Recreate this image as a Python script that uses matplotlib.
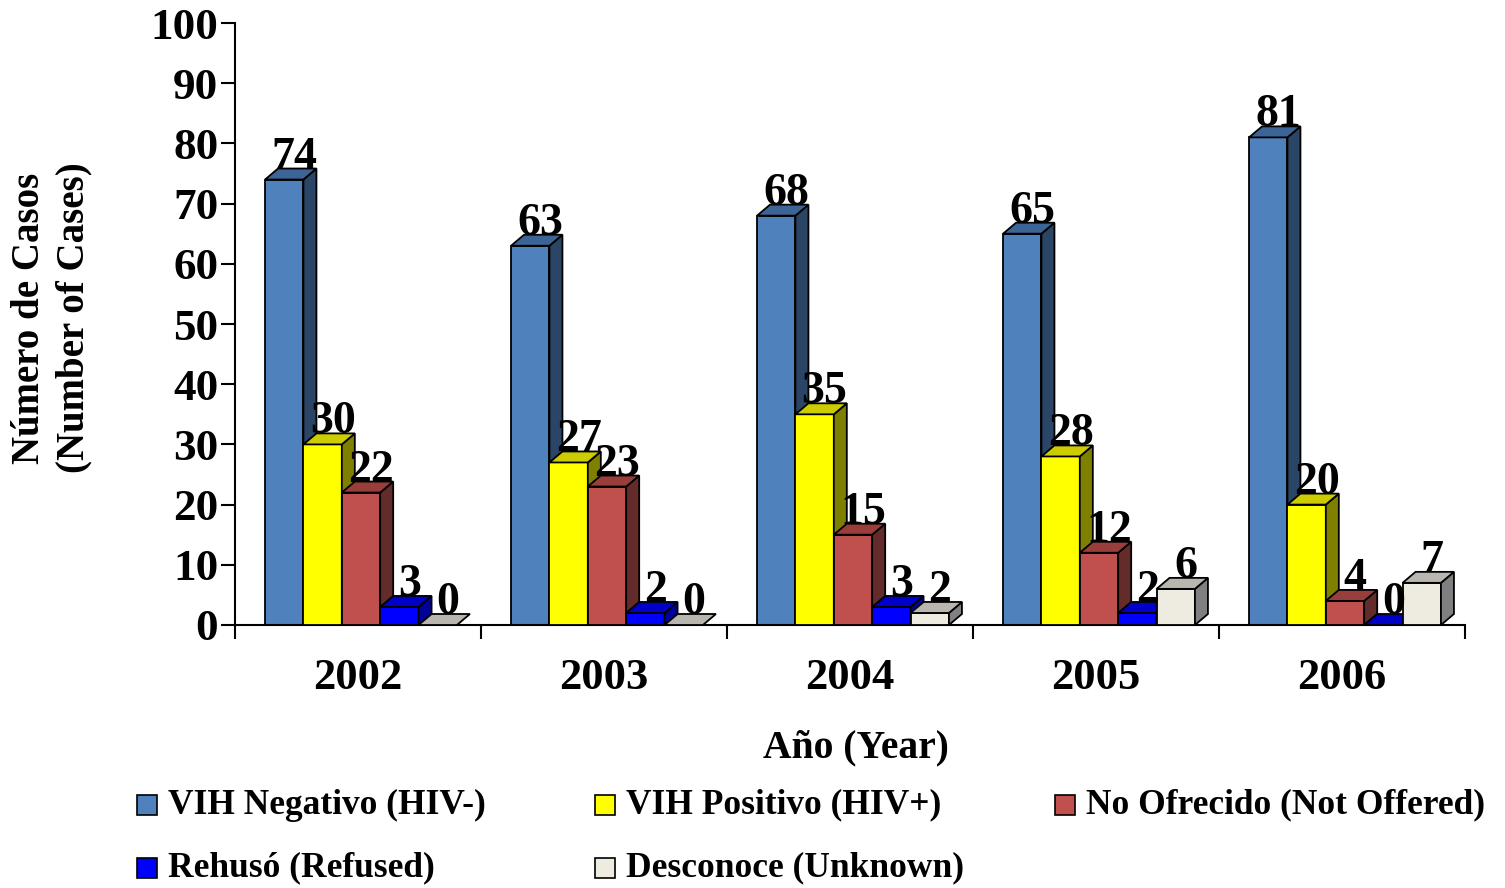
import matplotlib
matplotlib.use("Agg")
import matplotlib.pyplot as plt
from matplotlib.patches import Polygon, Rectangle
import numpy as np

plt.rcParams['font.family'] = ['Liberation Serif', 'DejaVu Serif']
plt.rcParams['font.weight'] = 'bold'

years = ["2002", "2003", "2004", "2005", "2006"]
series_names = ["VIH Negativo (HIV-)", "VIH Positivo (HIV+)", "No Ofrecido (Not Offered)",
                "Rehusó (Refused)", "Desconoce (Unknown)"]
hiv_neg = [74, 63, 68, 65, 81]
hiv_pos = [30, 27, 35, 28, 20]
not_offered = [22, 23, 15, 12, 4]
refused = [3, 2, 3, 2, 0]
unknown = [0, 0, 2, 6, 7]
series = [hiv_neg, hiv_pos, not_offered, refused, unknown]

front_colors = ["#4F81BD", "#FFFF00", "#C0504D", "#0000FF", "#EEECE1"]
top_colors = ["#3C6496", "#CCCC00", "#9A3E3B", "#0000C8", "#B8B6AE"]
side_colors = ["#2A4566", "#808000", "#632C2A", "#00009A", "#808080"]

W, H = 1505, 888
fig = plt.figure(figsize=(W / 100, H / 100), dpi=100)
ax_l, ax_r, ax_b, ax_t = 235, 1465, 625, 23
ax = fig.add_axes([ax_l / W, 1 - ax_b / H, (ax_r - ax_l) / W, (ax_b - ax_t) / H])
ax.set_xlim(-0.5, 4.5)
ax.set_ylim(0, 100)

# depth of the fake 3D boxes, in pixels -> data units
px_x = 5 / (ax_r - ax_l)
px_y = 100 / (ax_b - ax_t)
dx = 13 * px_x
dy = 11 * px_y

width = 0.156
x = np.arange(len(years))
lw = 1.3
for i, vals in enumerate(series):
    pos = x + (i - 2) * width + 3 * px_x
    for j, (xp, v) in enumerate(zip(pos, vals)):
        z = 2 + i
        l, r = xp - width / 2, xp + width / 2
        if v > 0:
            ax.bar(xp, v, width, color=front_colors[i], edgecolor="black", linewidth=lw, zorder=z)
            side = Polygon([(r, 0), (r + dx, dy), (r + dx, v + dy), (r, v)], closed=True,
                           facecolor=side_colors[i], edgecolor="black", linewidth=lw, zorder=z, clip_on=False)
            ax.add_patch(side)
        top = Polygon([(l, v), (l + dx, v + dy), (r + dx, v + dy), (r, v)], closed=True,
                      facecolor=top_colors[i], edgecolor="black", linewidth=lw, zorder=z, clip_on=False)
        ax.add_patch(top)
        ax.text(xp + 10 * px_x, v + 1 * px_y, str(v), ha="center", va="bottom",
                fontsize=33, fontweight="bold", zorder=20)

for s in ["top", "right"]:
    ax.spines[s].set_visible(False)
for s in ["left", "bottom"]:
    ax.spines[s].set_linewidth(1.5)

ax.set_yticks(range(0, 101, 10))
ax.tick_params(axis="y", direction="out", length=10, width=1.5, labelsize=32.5, pad=2)
ax.set_xticks(x)
ax.set_xticklabels(years)
ax.set_xticks(np.arange(-0.5, 5, 1), minor=True)
ax.tick_params(axis="x", which="major", length=0, labelsize=32, pad=24)
ax.tick_params(axis="x", which="minor", direction="out", length=10, width=1.5)

fig.text(856 / W, 1 - 748 / H, "Año (Year)", ha="center", va="center", fontsize=28.5, fontweight="bold")
fig.text(52 / W, 1 - 318 / H, "Número de Casos\n(Number of Cases)", ha="center", va="center",
         rotation=90, fontsize=28, fontweight="bold", linespacing=1.25)

# legend laid out like the original (3 columns, 2 rows)
col_x = [137, 595, 1055]
row_y = [805, 868]
for i, name in enumerate(series_names):
    cx, cy = col_x[i % 3], row_y[i // 3]
    fig.patches.append(Rectangle((cx / W, 1 - (cy + 10) / H), 20 / W, 20 / H, transform=fig.transFigure,
                                 facecolor=front_colors[i], edgecolor="black", linewidth=1.2))
    fig.text((cx + 31) / W, 1 - cy / H, name, ha="left", va="center", fontsize=25.5, fontweight="bold")

fig.savefig("out.png", dpi=100)
